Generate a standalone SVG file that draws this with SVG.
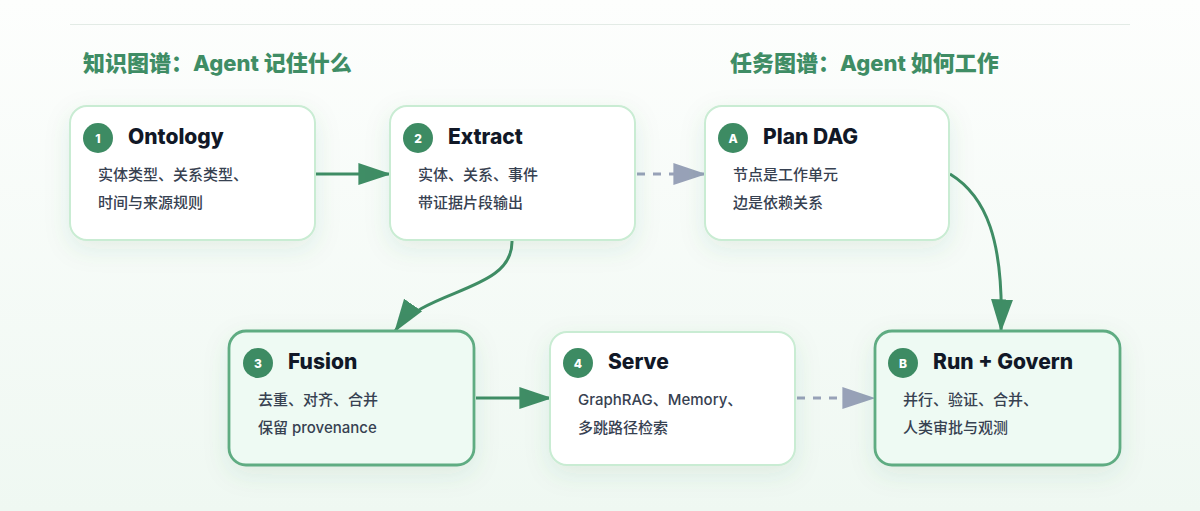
<svg xmlns="http://www.w3.org/2000/svg" width="1200" height="511" viewBox="0 0 1200 511">
<defs>
<linearGradient id="bg" x1="0" y1="0" x2="0" y2="1">
<stop offset="0" stop-color="#fdfefd"/>
<stop offset="1" stop-color="#eff8f2"/>
</linearGradient>
<filter id="sh" x="-20%" y="-20%" width="140%" height="160%">
<feDropShadow dx="0" dy="8" stdDeviation="12" flood-color="#2f7a50" flood-opacity="0.10"/>
</filter>
<marker id="ag" viewBox="0 0 12 8" refX="11.5" refY="4" markerWidth="11" markerHeight="8" orient="auto" markerUnits="strokeWidth">
<path d="M0,0 L12,4 L0,8 Z" fill="#3f8d65"/>
</marker>
<marker id="ay" viewBox="0 0 12 8" refX="11.5" refY="4" markerWidth="11" markerHeight="8" orient="auto" markerUnits="strokeWidth">
<path d="M0,0 L12,4 L0,8 Z" fill="#98a2b8"/>
</marker>
<style>
.box{fill:#ffffff;stroke:#c9ecd3;stroke-width:2;filter:url(#sh)}
.hot{fill:#eefaf3;stroke:#5fac82;stroke-width:2.8;filter:url(#sh)}
.badge{fill:#3d8b63}
.bn{font-family:Inter,"Liberation Sans",sans-serif;font-weight:800;font-size:12px;fill:#ffffff;text-anchor:middle}
.tt{font-family:Inter,"Liberation Sans","Noto Sans CJK SC",sans-serif;font-weight:800;font-size:21px;fill:#111827}
.bd{font-family:Inter,"Noto Sans CJK SC",sans-serif;font-weight:500;font-size:15px;fill:#374151}
.hd{font-family:Inter,"Noto Sans CJK SC",sans-serif;font-weight:800;font-size:22px;fill:#3f8d65}
.e{fill:none;stroke:#3f8d65;stroke-width:3}
.d{fill:none;stroke:#98a2b8;stroke-width:3;stroke-dasharray:8 8}
</style>
</defs>
<rect x="0" y="0" width="1200" height="511" fill="url(#bg)"/>
<line x1="70" y1="24.5" x2="1130" y2="24.5" stroke="#e3ebe6" stroke-width="1"/>
<text class="hd" x="83" y="71">知识图谱：Agent 记住什么</text>
<text class="hd" x="730" y="71">任务图谱：Agent 如何工作</text>

<g id="connectors">
<path class="e" d="M316,174 L390,174" marker-end="url(#ag)"/>
<path class="d" d="M637,174 L705,174" marker-end="url(#ay)"/>
<path class="e" d="M512,241 C513,292 425,288 395,331" marker-end="url(#ag)"/>
<path class="e" d="M950,174 C986,196 1004,240 1001,331" marker-end="url(#ag)"/>
<path class="e" d="M476,398 L551,398" marker-end="url(#ag)"/>
<path class="d" d="M797,398 L874,398" marker-end="url(#ay)"/>
</g>

<g id="n1">
<rect class="box" x="70" y="106" width="245" height="134" rx="17"/>
<circle class="badge" cx="98" cy="138" r="15"/>
<text class="bn" x="98" y="142.5">1</text>
<text class="tt" x="128" y="144">Ontology</text>
<text class="bd" x="98" y="180">实体类型、关系类型、</text>
<text class="bd" x="98" y="208">时间与来源规则</text>
</g>

<g id="n2">
<rect class="box" x="390" y="106" width="245" height="134" rx="17"/>
<circle class="badge" cx="418" cy="138" r="15"/>
<text class="bn" x="418" y="142.5">2</text>
<text class="tt" x="448" y="144">Extract</text>
<text class="bd" x="418" y="180">实体、关系、事件</text>
<text class="bd" x="418" y="208">带证据片段输出</text>
</g>

<g id="nA">
<rect class="box" x="705" y="106" width="244" height="134" rx="17"/>
<circle class="badge" cx="733" cy="138" r="15"/>
<text class="bn" x="733" y="142.5">A</text>
<text class="tt" x="763" y="144">Plan DAG</text>
<text class="bd" x="733" y="180">节点是工作单元</text>
<text class="bd" x="733" y="208">边是依赖关系</text>
</g>

<g id="n3">
<rect class="hot" x="229" y="331" width="245" height="134" rx="17"/>
<circle class="badge" cx="258" cy="363" r="15"/>
<text class="bn" x="258" y="367.5">3</text>
<text class="tt" x="288" y="369">Fusion</text>
<text class="bd" x="258" y="405">去重、对齐、合并</text>
<text class="bd" x="258" y="433">保留 provenance</text>
</g>

<g id="n4">
<rect class="box" x="550" y="332" width="245" height="133" rx="17"/>
<circle class="badge" cx="578" cy="363" r="15"/>
<text class="bn" x="578" y="367.5">4</text>
<text class="tt" x="608" y="369">Serve</text>
<text class="bd" x="578" y="405">GraphRAG、Memory、</text>
<text class="bd" x="578" y="433">多跳路径检索</text>
</g>

<g id="nB">
<rect class="hot" x="875" y="331" width="245" height="134" rx="17"/>
<circle class="badge" cx="903" cy="363" r="15"/>
<text class="bn" x="903" y="367.5">B</text>
<text class="tt" x="933" y="369">Run + Govern</text>
<text class="bd" x="903" y="405">并行、验证、合并、</text>
<text class="bd" x="903" y="433">人类审批与观测</text>
</g>
</svg>
